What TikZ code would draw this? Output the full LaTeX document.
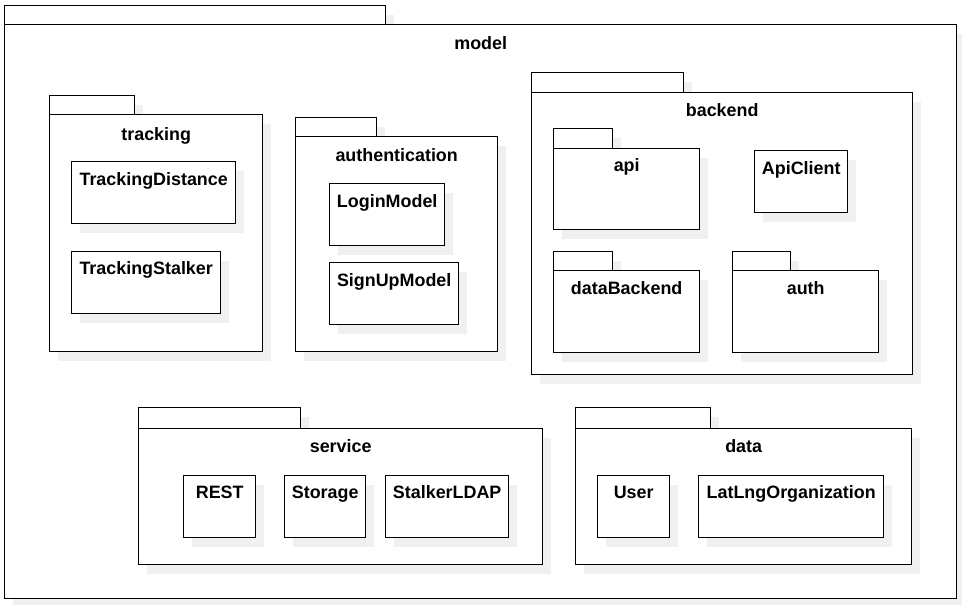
\documentclass[tikz,border=0pt]{standalone}
\usepackage{fontspec}
\setmainfont{Liberation Sans}
\tikzset{
  shad/.style={fill=black!6, draw=none},
  frame/.style={draw=black, line width=1.4pt, fill=white, inner sep=0pt},
  lbl/.style={font=\bfseries\fontsize{17.9}{20}\selectfont, anchor=base, inner sep=0pt},
}
% name x1 y1 x2 y2
\newcommand\shbox[5]{%
  \fill[shad] (#2+9,#3+10) rectangle (#4+9,#5+10);
  \node[frame, anchor=north west, minimum width=#4-#2, minimum height=#5-#3] (#1) at (#2,#3) {};
}
\begin{document}
\begin{tikzpicture}[x=1pt,y=-1pt]
\useasboundingbox (0,0) rectangle (962,605);
% model
\shbox{modelTab}{4}{5}{385}{24}
\shbox{model}{4}{24}{956}{598}
\node[lbl] (modelL) at ([yshift=-25pt]model.north) {model};
% tracking
\shbox{trackingTab}{49}{95}{134}{114}
\shbox{tracking}{49}{114}{262}{351}
\node[lbl] (trackingL) at ([yshift=-26pt]tracking.north) {tracking};
\shbox{td}{71}{161}{235}{223}
\node[lbl] (tdL) at ([yshift=-24pt]td.north) {TrackingDistance};
\shbox{ts}{71}{251}{220}{313}
\node[lbl] (tsL) at ([yshift=-23pt]ts.north) {TrackingStalker};
% authentication
\shbox{authnTab}{295}{117}{376}{136}
\shbox{authn}{295}{136}{497}{351}
\node[lbl] (authnL) at ([yshift=-25pt]authn.north) {authentication};
\shbox{lm}{329}{183}{444}{245}
\node[lbl] (lmL) at ([yshift=-24pt]lm.north) {LoginModel};
\shbox{su}{329}{262}{458}{324}
\node[lbl] (suL) at ([yshift=-24pt]su.north) {SignUpModel};
% backend
\shbox{backendTab}{531}{72}{683}{92}
\shbox{backend}{531}{92}{912}{374}
\node[lbl] (backendL) at ([yshift=-24pt]backend.north) {backend};
\shbox{apiTab}{553}{128}{612}{148}
\shbox{api}{553}{148}{699}{229}
\node[lbl] (apiL) at ([yshift=-23pt]api.north) {api};
\shbox{ac}{754}{150}{847}{212}
\node[lbl] (acL) at ([yshift=-24pt]ac.north) {ApiClient};
\shbox{dbTab}{553}{251}{612}{270}
\shbox{db}{553}{270}{699}{352}
\node[lbl] (dbL) at ([yshift=-24pt]db.north) {dataBackend};
\shbox{authTab}{732}{251}{790}{270}
\shbox{auth}{732}{270}{878}{352}
\node[lbl] (authL) at ([yshift=-24pt]auth.north) {auth};
% service
\shbox{serviceTab}{138}{407}{300}{428}
\shbox{service}{138}{428}{542}{564}
\node[lbl] (serviceL) at ([yshift=-24pt]service.north) {service};
\shbox{rest}{183}{475}{255}{537}
\node[lbl] (restL) at ([yshift=-23pt]rest.north) {REST};
\shbox{storage}{284}{475}{365}{537}
\node[lbl] (storageL) at ([yshift=-23pt]storage.north) {Storage};
\shbox{ldap}{385}{475}{508}{537}
\node[lbl] (ldapL) at ([yshift=-23pt]ldap.north) {StalkerLDAP};
% data
\shbox{dataTab}{575}{407}{710}{428}
\shbox{data}{575}{428}{911}{564}
\node[lbl] (dataL) at ([yshift=-24pt]data.north) {data};
\shbox{user}{597}{475}{669}{537}
\node[lbl] (userL) at ([yshift=-23pt]user.north) {User};
\shbox{llo}{698}{475}{883}{537}
\node[lbl] (lloL) at ([yshift=-23pt]llo.north) {LatLngOrganization};
\end{tikzpicture}
\end{document}
